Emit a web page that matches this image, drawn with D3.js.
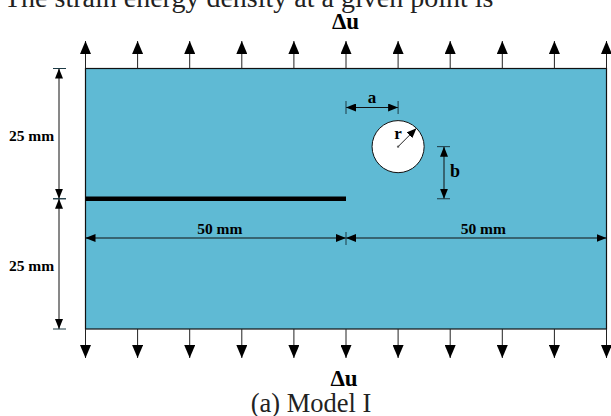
<!DOCTYPE html>
<html>
<head>
<meta charset="utf-8">
<script src="https://cdn.jsdelivr.net/npm/d3@7"></script>
<style>
  html, body { margin: 0; padding: 0; background: #fff; }
  svg { display: block; }
  text { font-family: "Liberation Serif", serif; fill: #000; }
</style>
</head>
<body>
<script>
// plate is 100 x 50 mm, everything below is in mm
var plateWidth = 100;
var plateHeight = 50;
var loadPositions = [0, 10, 20, 30, 40, 50, 60, 70, 80, 90, 100];
var crack = [0, 50];
var crackHeight = 25;
var holeCentre = [60, 35];
var holeRadius = 5;
// dimension lines: from, to, label
var widthDims = [[0, 50, "50 mm"], [50, 100, "50 mm"]];
var heightDims = [[25, 50, "25 mm"], [0, 25, "25 mm"]];
var titleText = "The strain energy density at a given point is";
var captionText = "(a) Model I";
var loadLabel = "\u0394u";

var w = 611, h = 416;

var x = d3.scaleLinear().domain([0, plateWidth]).range([85.5, 606.5]);
var y = d3.scaleLinear().domain([0, plateHeight]).range([329, 68.5]);

var svg = d3.select("body").append("svg")
  .attr("width", w)
  .attr("height", h);

// dimension arrow head
svg.append("marker")
  .attr("id", "tip")
  .attr("markerUnits", "userSpaceOnUse")
  .attr("viewBox", "0 0 10 8")
  .attr("refX", 10)
  .attr("refY", 4)
  .attr("markerWidth", 10)
  .attr("markerHeight", 8)
  .attr("orient", "auto-start-reverse")
  .append("path")
  .attr("d", "M0,0 L10,4 L0,8 Z")
  .attr("fill", "#000");

// big load arrows get a longer head
svg.append("marker")
  .attr("id", "load")
  .attr("markerUnits", "userSpaceOnUse")
  .attr("viewBox", "0 0 13 11")
  .attr("refX", 13)
  .attr("refY", 5.5)
  .attr("markerWidth", 13)
  .attr("markerHeight", 11)
  .attr("orient", "auto")
  .append("path")
  .attr("d", "M0,0 L13,5.5 L0,11 Z")
  .attr("fill", "#000");

// clipped line of the page above the figure
svg.append("text")
  .attr("x", 4)
  .attr("y", 7)
  .style("font-size", "28px")
  .style("fill", "#222")
  .text(titleText);

// plate
svg.append("rect")
  .attr("x", x(0))
  .attr("y", y(plateHeight))
  .attr("width", x(plateWidth) - x(0))
  .attr("height", y(0) - y(plateHeight))
  .attr("fill", "#5fbad4")
  .attr("stroke", "#111")
  .attr("stroke-width", 1.2);

// crack
svg.append("line")
  .attr("x1", x(crack[0]))
  .attr("x2", x(crack[1]))
  .attr("y1", y(crackHeight))
  .attr("y2", y(crackHeight))
  .attr("stroke", "#000")
  .attr("stroke-width", 4.5);

// hole
svg.append("circle")
  .attr("cx", x(holeCentre[0]))
  .attr("cy", y(holeCentre[1]))
  .attr("r", x(holeRadius) - x(0))
  .attr("fill", "#fff")
  .attr("stroke", "#111")
  .attr("stroke-width", 1);

svg.append("circle")
  .attr("cx", x(holeCentre[0]))
  .attr("cy", y(holeCentre[1]))
  .attr("r", 1.2)
  .attr("fill", "#777");

// load arrows top and bottom
svg.selectAll(".load-top")
  .data(loadPositions)
  .enter()
  .append("line")
  .attr("class", "load-top")
  .attr("x1", function(d) {return x(d)})
  .attr("x2", function(d) {return x(d)})
  .attr("y1", y(plateHeight))
  .attr("y2", 41)
  .attr("stroke", "#222")
  .attr("stroke-width", 1)
  .attr("marker-end", "url(#load)");

svg.selectAll(".load-bottom")
  .data(loadPositions)
  .enter()
  .append("line")
  .attr("class", "load-bottom")
  .attr("x1", function(d) {return x(d)})
  .attr("x2", function(d) {return x(d)})
  .attr("y1", y(0))
  .attr("y2", 358)
  .attr("stroke", "#222")
  .attr("stroke-width", 1)
  .attr("marker-end", "url(#load)");

function dimLine(x1, y1, x2, y2) {
  svg.append("line")
    .attr("x1", x1).attr("y1", y1)
    .attr("x2", x2).attr("y2", y2)
    .attr("stroke", "#111")
    .attr("stroke-width", 1)
    .attr("marker-start", "url(#tip)")
    .attr("marker-end", "url(#tip)");
}

function tick(x1, y1, x2, y2) {
  svg.append("line")
    .attr("x1", x1).attr("y1", y1)
    .attr("x2", x2).attr("y2", y2)
    .attr("stroke", "#1c3a44")
    .attr("stroke-width", 1);
}

function label(px, py, txt, size) {
  svg.append("text")
    .attr("x", px)
    .attr("y", py)
    .attr("text-anchor", "middle")
    .style("font-size", size + "px")
    .style("font-weight", "bold")
    .text(txt);
}

// height dimensions on the left
heightDims.forEach(function(d) {
  dimLine(59, y(d[1]), 59, y(d[0]));
  tick(53, y(d[1]), 66, y(d[1]));
  tick(53, y(d[0]), 66, y(d[0]));
  label(31.5, (y(d[0]) + y(d[1])) / 2 + 7, d[2], 15.5);
});

// width dimensions through the lower half
widthDims.forEach(function(d, i) {
  dimLine(x(d[0]), 238, x(d[1]), 238);
  // labels sit a bit right of the middle, the right one more so
  label((x(d[0]) + x(d[1])) / 2 + (i == 0 ? 4 : 7), 233.5, d[2], 15.5);
});
tick(x(50), 232, x(50), 245);

// a, b and r around the hole
dimLine(x(50), 107.5, x(holeCentre[0]), 107.5);
tick(x(50), 101, x(50), 114);
tick(x(holeCentre[0]), 101, x(holeCentre[0]), 114);
label(372, 103, "a", 17);

dimLine(444, y(holeCentre[1]), 444, y(crackHeight));
tick(437, y(holeCentre[1]), 450, y(holeCentre[1]));
tick(437, y(crackHeight), 450, y(crackHeight));
label(455, 177, "b", 18);

var rr = (x(holeRadius) - x(0)) * Math.SQRT1_2;
svg.append("line")
  .attr("x1", x(holeCentre[0]))
  .attr("y1", y(holeCentre[1]))
  .attr("x2", x(holeCentre[0]) + rr)
  .attr("y2", y(holeCentre[1]) - rr)
  .attr("stroke", "#222")
  .attr("stroke-width", 1)
  .attr("marker-end", "url(#tip)");
label(398, 139, "r", 17);

// load labels and caption
label(345.5, 29, loadLabel, 23);
label(344, 386, loadLabel, 23);

svg.append("text")
  .attr("x", 311)
  .attr("y", 412)
  .attr("text-anchor", "middle")
  .style("font-size", "26.5px")
  .style("fill", "#222")
  .text(captionText);
</script>
</body>
</html>
